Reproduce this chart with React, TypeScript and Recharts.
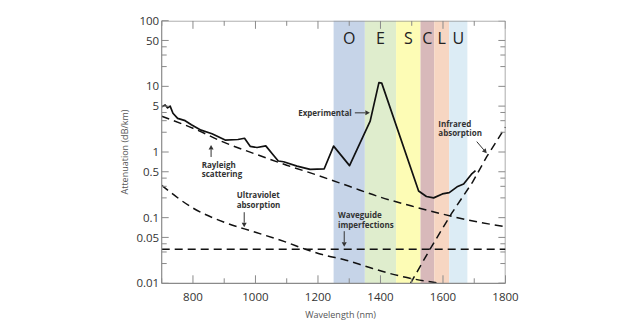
import React from "react";
import {
  ComposedChart,
  Line,
  XAxis,
  YAxis,
  ReferenceArea,
  ReferenceLine,
  ReferenceDot,
} from "recharts";

const FONT = '"Open Sans", "DejaVu Sans", sans-serif';
const AXIS = "#8a8a8a";
const INK = "#333";

// wavelength (nm) / attenuation (dB/km)
const experimentalNm = [
  701, 711, 719, 727, 736, 751, 775, 795, 826, 861, 903, 944, 965, 983, 1005,
  1033, 1057, 1073, 1090, 1133, 1175, 1220, 1250, 1301, 1367, 1395, 1404,
  1522, 1547, 1570, 1598, 1620, 1645, 1666, 1693, 1704,
];
const experimentalDb = [
  4.9, 5.2, 4.7, 5.0, 3.9, 3.25, 3.0, 2.6, 2.15, 1.9, 1.52, 1.55, 1.62, 1.22,
  1.17, 1.24, 0.9, 0.73, 0.71, 0.61, 0.545, 0.555, 1.23, 0.62, 2.95, 11.4, 11.2,
  0.255, 0.21, 0.2, 0.23, 0.24, 0.295, 0.325, 0.47, 0.52,
];

const rayleighNm = [700, 800, 900, 1000, 1100, 1200, 1300, 1400, 1500, 1600, 1700, 1800];
const rayleighDb = [3.5, 2.3, 1.4, 0.93, 0.63, 0.44, 0.3, 0.205, 0.15, 0.113, 0.088, 0.073];

const uvNm = [700, 800, 900, 1000, 1100, 1160, 1220, 1290, 1360, 1430, 1500, 1590];
const uvDb = [0.31, 0.14, 0.085, 0.06, 0.042, 0.033, 0.027, 0.0225, 0.0177, 0.0141, 0.0118, 0.01];

const irNm = [1496, 1560, 1627, 1695, 1740, 1800];
const irDb = [0.01, 0.034, 0.115, 0.35, 0.85, 2.4];

const waveguideNm = [700, 1800];
const waveguideDb = [0.033, 0.033];

const bandNames = ["O", "E", "S", "C", "L", "U"];
const bandEdges = [1250, 1350, 1450, 1528, 1572, 1620, 1678];
const bandColors = ["#c6d4e8", "#dfedcd", "#fdfcb5", "#d8b9ba", "#f7d6c2", "#dcecf5"];

const xDomain = [700, 1800];
const yDomain = [0.01, 100];
const xTicks = [700, 800, 900, 1000, 1100, 1200, 1300, 1400, 1500, 1600, 1700, 1800];
const xLabelTicks = [800, 1000, 1200, 1400, 1600, 1800];
const yTicks = [
  0.01, 0.02, 0.03, 0.04, 0.05, 0.1, 0.2, 0.3, 0.4, 0.5, 1, 2, 3, 4, 5, 10, 20,
  30, 40, 50, 100,
];
const yLabelTicks = [0.01, 0.05, 0.1, 0.5, 1, 5, 10, 50, 100];

// annotations, in data units
const notes = [
  { nm: 1308, db: 3.54, lines: ["Experimental"], anchor: "end" },
  { nm: 828, db: 0.58, lines: ["Rayleigh", "scattering"], anchor: "start" },
  { nm: 940, db: 0.196, lines: ["Ultraviolet", "absorption"], anchor: "start" },
  { nm: 1264, db: 0.0974, lines: ["Waveguide", "imperfections"], anchor: "start" },
  { nm: 1585, db: 2.43, lines: ["Infrared", "absorption"], anchor: "start" },
];
const arrows = [
  { from: [1318, 3.95], to: [1366, 3.95] },
  { from: [858, 0.84], to: [858, 1.28] },
  { from: [964, 0.121], to: [964, 0.0716] },
  { from: [1284, 0.0622], to: [1284, 0.0361] },
  { from: [1708, 1.44], to: [1740, 0.955] },
];

const toPoints = (xs: number[], ys: number[]) =>
  xs.map((nm, i) => ({ nm, db: ys[i] }));

// top and right edges of the frame, a hair inside the plot so nothing clips them
const topEdge = xTicks.map((nm) => ({ nm: Math.min(Math.max(nm, 700.4), 1799.6), tick: nm, db: 99.6 }));
const rightEdge = yTicks.map((db) => ({ nm: 1799.6, tick: db, db: Math.min(Math.max(db, 0.01004), 99.6) }));

const BottomTick = (props: any) => {
  const { x, y, payload } = props;
  const major = xLabelTicks.includes(payload.value);
  return (
    <g>
      <line x1={x} y1={y} x2={x} y2={y - (major ? 8 : 5)} stroke={AXIS} />
      {major && (
        <text x={x} y={y + 18} textAnchor="middle" fontSize={11.5} fill={INK} fontFamily={FONT}>
          {payload.value}
        </text>
      )}
    </g>
  );
};

const LeftTick = (props: any) => {
  const { x, y, payload } = props;
  const major = yLabelTicks.includes(payload.value);
  return (
    <g>
      <line x1={x} y1={y} x2={x + (major ? 7 : 5)} y2={y} stroke={AXIS} />
      {major && (
        <text x={x - 2.5} y={y} dy="0.36em" textAnchor="end" fontSize={11.5} fill={INK} fontFamily={FONT}>
          {String(payload.value)}
        </text>
      )}
    </g>
  );
};

const TopTickDot = (p: any) => {
  const len = xLabelTicks.includes(p.payload.tick) ? 8 : 5;
  return (
    <line key={`tt${p.index}`} x1={p.cx} y1={p.cy} x2={p.cx} y2={p.cy + len} stroke={AXIS} strokeWidth={1} />
  );
};
const RightTickDot = (p: any) => {
  const len = yLabelTicks.includes(p.payload.tick) ? 7 : 5;
  return (
    <line key={`rt${p.index}`} x1={p.cx} y1={p.cy} x2={p.cx - len} y2={p.cy} stroke={AXIS} strokeWidth={1} />
  );
};

const Arrow = (props: any) => {
  const { x1, y1, x2, y2 } = props;
  const a = Math.atan2(y2 - y1, x2 - x1);
  const len = 4.5;
  const w = 2.5;
  const bx = x2 - len * Math.cos(a);
  const by = y2 - len * Math.sin(a);
  const px = -Math.sin(a) * w;
  const py = Math.cos(a) * w;
  return (
    <g>
      <line x1={x1} y1={y1} x2={bx} y2={by} stroke={INK} strokeWidth={1} />
      <polygon points={`${x2},${y2} ${bx + px},${by + py} ${bx - px},${by - py}`} fill={INK} />
    </g>
  );
};

const noteShape = (lines: string[], anchor: string) => (p: any) => (
  <text
    x={p.cx}
    y={p.cy}
    textAnchor={anchor}
    fontSize={8}
    fontWeight={700}
    fill={INK}
    fontFamily={FONT}
  >
    {lines.map((l, i) => (
      <tspan key={l} x={p.cx} dy={i === 0 ? 0 : 9.5}>
        {l}
      </tspan>
    ))}
  </text>
);

const lineStyle = {
  stroke: "#111",
  dot: false,
  activeDot: false,
  isAnimationActive: false,
};

export default function App() {
  return (
    <div style={{ position: "absolute", left: 0, top: 0, background: "#fff" }}>
      <ComposedChart
        width={639}
        height={330}
        margin={{ top: 20.7, right: 133.5, bottom: 6.7, left: 101.7 }}
      >
        {bandNames.map((name, i) => (
          <ReferenceArea
            key={name}
            x1={bandEdges[i]}
            x2={bandEdges[i + 1]}
            y1={yDomain[0]}
            y2={yDomain[1]}
            ifOverflow="visible"
            fill={bandColors[i]}
            fillOpacity={1}
            stroke="none"
            label={{
              value: name,
              position: "insideTop",
              offset: 11.5,
              fontSize: 16,
              fill: "#222",
              fontFamily: FONT,
            }}
          />
        ))}
        <XAxis
          dataKey="nm"
          type="number"
          domain={xDomain}
          allowDataOverflow
          ticks={xTicks}
          interval={0}
          tickSize={0}
          tickMargin={0}
          tickLine={false}
          tick={BottomTick}
          axisLine={{ stroke: AXIS, strokeWidth: 1.2 }}
          height={40}
          label={{
            value: "Wavelength (nm)",
            position: "insideBottom",
            offset: 5.8,
            dx: 7,
            fontSize: 9,
            fill: "#555",
            fontFamily: FONT,
          }}
        />
        <YAxis
          type="number"
          scale="log"
          domain={yDomain}
          allowDataOverflow
          ticks={yTicks}
          interval={0}
          tickSize={0}
          tickMargin={0}
          tickLine={false}
          tick={LeftTick}
          axisLine={{ stroke: AXIS, strokeWidth: 1.2 }}
          width={60}
          label={{
            value: "Attenuation (dB/km)",
            angle: -90,
            position: "insideLeft",
            offset: 23.3,
            fontSize: 9,
            fill: "#555",
            fontFamily: FONT,
            style: { textAnchor: "middle" },
          }}
        />
        <Line
          data={topEdge}
          dataKey="db"
          type="linear"
          stroke={AXIS}
          strokeWidth={1.2}
          dot={TopTickDot}
          activeDot={false}
          isAnimationActive={false}
        />
        <Line
          data={rightEdge}
          dataKey="db"
          type="linear"
          stroke={AXIS}
          strokeWidth={1.2}
          dot={RightTickDot}
          activeDot={false}
          isAnimationActive={false}
        />
        <Line
          data={toPoints(waveguideNm, waveguideDb)}
          dataKey="db"
          type="linear"
          strokeWidth={1.5}
          strokeDasharray="8 5"
          {...lineStyle}
        />
        <Line
          data={toPoints(rayleighNm, rayleighDb)}
          dataKey="db"
          type="monotone"
          strokeWidth={1.5}
          strokeDasharray="8 5"
          {...lineStyle}
        />
        <Line
          data={toPoints(uvNm, uvDb)}
          dataKey="db"
          type="monotone"
          strokeWidth={1.5}
          strokeDasharray="8 5"
          {...lineStyle}
        />
        <Line
          data={toPoints(irNm, irDb)}
          dataKey="db"
          type="linear"
          strokeWidth={1.5}
          strokeDasharray="8 5"
          {...lineStyle}
        />
        <Line
          data={toPoints(experimentalNm, experimentalDb)}
          dataKey="db"
          type="linear"
          strokeWidth={1.7}
          strokeLinejoin="round"
          {...lineStyle}
        />
        {arrows.map((a, i) => (
          <ReferenceLine
            key={i}
            segment={[
              { x: a.from[0], y: a.from[1] },
              { x: a.to[0], y: a.to[1] },
            ]}
            shape={Arrow}
          />
        ))}
        {notes.map((n) => (
          <ReferenceDot
            key={n.lines[0]}
            x={n.nm}
            y={n.db}
            r={0}
            shape={noteShape(n.lines, n.anchor)}
          />
        ))}
      </ComposedChart>
    </div>
  );
}
